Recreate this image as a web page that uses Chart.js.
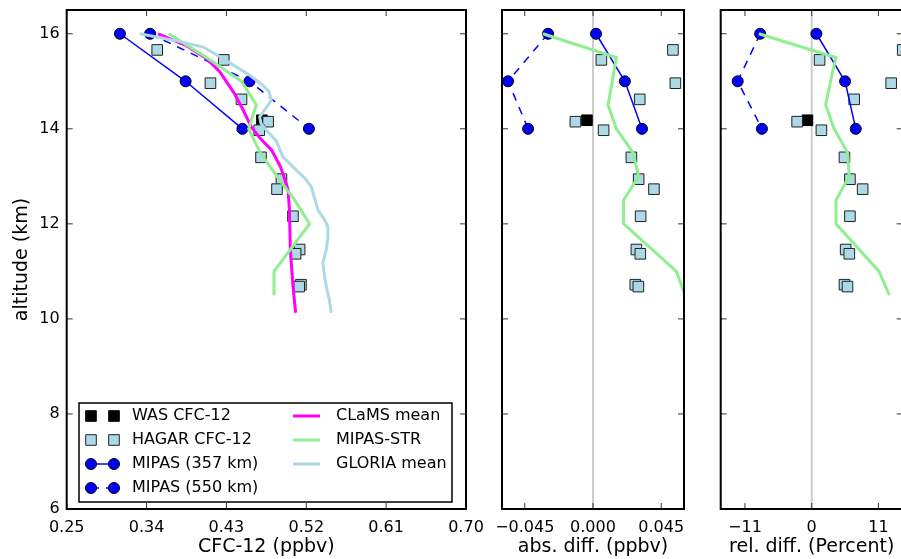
<!DOCTYPE html>
<html>
<head>
<meta charset="utf-8">
<script src="https://cdn.jsdelivr.net/npm/chart.js@4.4.0/dist/chart.umd.min.js"></script>
<style>
  body { margin: 0; background: #fff; overflow: hidden; width: 901px; height: 559px; position: relative; }
  canvas { position: absolute; top: 0; }
</style>
</head>
<body>
<canvas id="c1" width="500" height="559" style="left:0px"></canvas>
<canvas id="c2" width="210" height="559" style="left:490px"></canvas>
<canvas id="c3" width="220" height="559" style="left:700px"></canvas>
<script>
// --- Data ---

const yTicks = [6, 8, 10, 12, 14, 16];
const xTicks1 = [0.25, 0.34, 0.43, 0.52, 0.61, 0.70];
const xLabels1 = ["0.25", "0.34", "0.43", "0.52", "0.61", "0.70"];
const xTicks2 = [-0.045, 0, 0.045];
const xLabels2 = ["\u22120.045", "0.000", "0.045"];
const xTicks3 = [-11, 0, 11];
const xLabels3 = ["\u221211", "0", "11"];

// WAS
const altWas = [14.18];
const was = [0.470];
const wasAbs = [-0.004];
const wasRel = [-0.7];

// HAGAR
const altHagar = [15.66, 15.45, 14.96, 14.62, 14.15, 13.97, 13.40, 12.94, 12.73, 12.16, 11.46, 11.37, 10.72, 10.68];
const hagar = [0.352, 0.427, 0.412, 0.447, 0.477, 0.467, 0.469, 0.492, 0.487, 0.505, 0.5125, 0.508, 0.514, 0.512];
const hagarAbs = [0.0527, 0.0055, 0.0543, 0.0308, -0.0116, 0.0070, 0.0253, 0.0301, 0.0402, 0.0314, 0.0286, 0.0312, 0.0279, 0.0299];
const hagarRel = [15.0, 1.3, 13.1, 7.0, -2.4, 1.6, 5.4, 6.3, 8.4, 6.3, 5.6, 6.2, 5.4, 5.9];

// MIPAS
const altMipas = [16, 15, 14];
const mipas357 = [0.310, 0.384, 0.448];
const mipas550 = [0.344, 0.456, 0.523];
const mipas357Abs = [0.002, 0.021, 0.0323];
const mipas550Abs = [-0.0296, -0.056, -0.0428];
const mipas357Rel = [0.77, 5.5, 7.26];
const mipas550Rel = [-8.5, -12.2, -8.2];

// CLaMS mean
const altClams = [16.0, 15.75, 15.48, 15.2, 14.74, 14.39, 14.04, 13.8, 13.55, 13.2, 12.72, 12.3, 11.46, 10.69, 10.13];
const clams = [0.353, 0.385, 0.4075, 0.4225, 0.439, 0.449, 0.458, 0.468, 0.481, 0.491, 0.4995, 0.501, 0.502, 0.505, 0.508];

// MIPAS-STR
const altStr = [16.0, 15.5, 15.0, 14.5, 14.0, 13.5, 13.0, 12.5, 12.0, 11.0, 10.5];
const mipasStr = [0.365, 0.4075, 0.447, 0.4637, 0.455, 0.468, 0.487, 0.507, 0.5237, 0.4836, 0.4836];
const mipasStrAbs = [-0.033, 0.0154, 0.0127, 0.0099, 0.0154, 0.0264, 0.0301, 0.0202, 0.0202, 0.055, 0.0607];
const mipasStrRel = [-8.7, 4.0, 3.1, 2.3, 3.7, 5.9, 6.2, 4.0, 4.0, 11.1, 12.8];

// GLORIA mean
const altGloria = [16.0, 15.85, 15.72, 15.48, 15.13, 14.9, 14.78, 14.6, 14.25, 14.11, 13.97, 13.75, 13.41, 13.13, 12.95, 12.78, 12.5, 12.3, 12.1, 11.95, 11.7, 11.46, 11.18, 10.9, 10.69, 10.4, 10.13];
const gloria = [0.3325, 0.374, 0.404, 0.426, 0.456, 0.472, 0.478, 0.4806, 0.4675, 0.469, 0.475, 0.486, 0.4937, 0.5087, 0.519, 0.5256, 0.530, 0.533, 0.540, 0.5443, 0.5443, 0.5425, 0.5387, 0.5405, 0.5425, 0.546, 0.5481];

// --- Styles ---

const FONT = "DejaVu Sans";
const BLUE = "#0000ff";
const MAGENTA = "#ff00ff";
const GREEN = "#90ee90";
const LIGHTBLUE = "#add8e6";
const DASH = [8, 7];

function pts(xs, ys) {
  return xs.map((v, i) => ({ x: v, y: ys[i] }));
}

function wasSet(xs) {
  return { label: "WAS CFC-12", data: pts(xs, altWas), order: 7, pointStyle: "rect", pointRadius: 7.5,
    pointBackgroundColor: "#000", pointBorderColor: "#000", pointBorderWidth: 1 };
}
function hagarSet(xs) {
  return { label: "HAGAR CFC-12", data: pts(xs, altHagar), order: 6, pointStyle: "rect", pointRadius: 7.5,
    pointBackgroundColor: LIGHTBLUE, pointBorderColor: "#222", pointBorderWidth: 1 };
}
function mipasSet(label, xs, dashed, order) {
  return { label, data: pts(xs, altMipas), order, showLine: true, borderColor: BLUE, borderWidth: 1.5,
    borderDash: dashed ? DASH : [], pointStyle: "circle", pointRadius: 5.5,
    pointBackgroundColor: BLUE, pointBorderColor: "#000", pointBorderWidth: 1 };
}
function lineSet(label, xs, ys, color, order) {
  return { label, data: pts(xs, ys), order, showLine: true, borderColor: color, borderWidth: 3, pointRadius: 0 };
}

// --- Plugins: frame with inward ticks, zero line, legend ---

const framePlugin = {
  id: "frame",
  beforeDatasetsDraw(chart) {
    if (!chart.options.plugins.frame.zero) return;
    const { ctx, chartArea: a, scales: { x } } = chart;
    const px = x.getPixelForValue(0);
    ctx.save();
    ctx.strokeStyle = "#cccccc";
    ctx.lineWidth = 2;
    ctx.beginPath();
    ctx.moveTo(px, a.top);
    ctx.lineTo(px, a.bottom);
    ctx.stroke();
    ctx.restore();
  },
  afterDatasetsDraw(chart) {
    const { ctx, chartArea: a, scales: { x, y } } = chart;
    ctx.save();
    ctx.strokeStyle = "#333";
    ctx.lineWidth = 1;
    ctx.beginPath();
    x.ticks.forEach(t => {
      const px = x.getPixelForValue(t.value);
      ctx.moveTo(px, a.bottom); ctx.lineTo(px, a.bottom - 6);
      ctx.moveTo(px, a.top); ctx.lineTo(px, a.top + 6);
    });
    y.ticks.forEach(t => {
      const py = y.getPixelForValue(t.value);
      ctx.moveTo(a.left, py); ctx.lineTo(a.left + 6, py);
      ctx.moveTo(a.right, py); ctx.lineTo(a.right - 6, py);
    });
    ctx.stroke();
    ctx.strokeStyle = "#000";
    ctx.lineWidth = 2;
    ctx.strokeRect(a.left, a.top, a.right - a.left, a.bottom - a.top);
    ctx.restore();
  }
};

function drawMarker(ctx, ds, cx, cy) {
  ctx.fillStyle = ds.pointBackgroundColor;
  ctx.strokeStyle = ds.pointBorderColor;
  ctx.lineWidth = ds.pointBorderWidth;
  ctx.beginPath();
  if (ds.pointStyle === "rect") {
    const s = ds.pointRadius * Math.SQRT1_2;
    ctx.rect(cx - s, cy - s, 2 * s, 2 * s);
  } else {
    ctx.arc(cx, cy, ds.pointRadius, 0, Math.PI * 2);
  }
  ctx.fill();
  ctx.stroke();
}

const legendPlugin = {
  id: "boxLegend",
  afterDraw(chart) {
    const ctx = chart.ctx;
    const sets = chart.data.datasets;
    ctx.save();
    ctx.fillStyle = "#fff";
    ctx.fillRect(79, 403, 373, 99);
    ctx.strokeStyle = "#000";
    ctx.lineWidth = 1.5;
    ctx.strokeRect(79, 403, 373, 99);
    ctx.font = "16px '" + FONT + "'";
    ctx.textBaseline = "middle";
    const rows = [416, 440, 464, 488];
    // left column: marker entries
    sets.slice(0, 4).forEach((ds, i) => {
      const ry = rows[i];
      if (ds.showLine) {
        ctx.strokeStyle = ds.borderColor;
        ctx.lineWidth = ds.borderWidth;
        ctx.setLineDash(ds.borderDash || []);
        ctx.beginPath();
        ctx.moveTo(91, ry); ctx.lineTo(114, ry);
        ctx.stroke();
        ctx.setLineDash([]);
      }
      drawMarker(ctx, ds, 91, ry);
      drawMarker(ctx, ds, 114, ry);
      ctx.fillStyle = "#000";
      ctx.fillText(ds.label, 132, ry);
    });
    // right column: line entries
    sets.slice(4).forEach((ds, i) => {
      const ry = rows[i];
      ctx.strokeStyle = ds.borderColor;
      ctx.lineWidth = ds.borderWidth;
      ctx.beginPath();
      ctx.moveTo(293, ry); ctx.lineTo(320, ry);
      ctx.stroke();
      ctx.fillStyle = "#000";
      ctx.fillText(ds.label, 336, ry);
    });
    ctx.restore();
  }
};

// --- Panels ---

function panel(id, opt) {
  return new Chart(document.getElementById(id), {
    type: "scatter",
    data: { datasets: opt.datasets },
    options: {
      responsive: false,
      animation: false,
      events: [],
      layout: { padding: { top: 10, right: opt.padRight, left: 0, bottom: 0 } },
      plugins: { legend: { display: false }, tooltip: { enabled: false }, frame: { zero: opt.zero } },
      scales: {
        x: {
          type: "linear", min: opt.xMin, max: opt.xMax,
          afterBuildTicks: s => { s.ticks = opt.xTicks.map(v => ({ value: v })); },
          afterFit: s => { s.height = 50; s.paddingLeft = 0; s.paddingRight = 0; },
          grid: { display: false, drawTicks: false },
          border: { display: false },
          ticks: { callback: (v, i) => opt.xLabels[i], color: "#000", font: { family: FONT, size: 16 },
            padding: 9, maxRotation: 0, autoSkip: false },
          title: { display: true, text: opt.xTitle, color: "#000",
            font: { family: FONT, size: 19, lineHeight: 1 }, padding: { top: 0, bottom: 2.5 } }
        },
        y: {
          type: "linear", min: 6, max: 16.5,
          afterBuildTicks: s => { s.ticks = yTicks.map(v => ({ value: v })); },
          afterFit: s => { s.width = opt.yWidth; s.paddingTop = 0; s.paddingBottom = 0; },
          grid: { display: false, drawTicks: false },
          border: { display: false },
          ticks: { display: !!opt.yTitle, color: "#000", font: { family: FONT, size: 16 }, padding: 7 },
          title: { display: !!opt.yTitle, text: opt.yTitle || "", color: "#000",
            font: { family: FONT, size: 19, lineHeight: 1 }, padding: { top: 12.5, bottom: 0 } }
        }
      }
    },
    plugins: opt.legend ? [framePlugin, legendPlugin] : [framePlugin]
  });
}

panel("c1", {
  xMin: 0.25, xMax: 0.70, xTicks: xTicks1, xLabels: xLabels1, xTitle: "CFC-12 (ppbv)",
  yTitle: "altitude (km)", yWidth: 66.7, padRight: 34, legend: true, zero: false,
  datasets: [
    wasSet(was),
    hagarSet(hagar),
    mipasSet("MIPAS (357 km)", mipas357, false, 5),
    mipasSet("MIPAS (550 km)", mipas550, true, 4),
    lineSet("CLaMS mean", clams, altClams, MAGENTA, 3),
    lineSet("MIPAS-STR", mipasStr, altStr, GREEN, 2),
    lineSet("GLORIA mean", gloria, altGloria, LIGHTBLUE, 1)
  ]
});

panel("c2", {
  xMin: -0.06, xMax: 0.06, xTicks: xTicks2, xLabels: xLabels2, xTitle: "abs. diff. (ppbv)",
  yWidth: 12, padRight: 16, zero: true,
  datasets: [
    wasSet(wasAbs),
    hagarSet(hagarAbs),
    mipasSet("MIPAS (357 km)", mipas357Abs, false, 5),
    mipasSet("MIPAS (550 km)", mipas550Abs, true, 4),
    lineSet("MIPAS-STR", mipasStrAbs, altStr, GREEN, 2)
  ]
});

panel("c3", {
  xMin: -15, xMax: 15, xTicks: xTicks3, xLabels: xLabels3, xTitle: "rel. diff. (Percent)",
  yWidth: 20.7, padRight: 17.3, zero: true,
  datasets: [
    wasSet(wasRel),
    hagarSet(hagarRel),
    mipasSet("MIPAS (357 km)", mipas357Rel, false, 5),
    mipasSet("MIPAS (550 km)", mipas550Rel, true, 4),
    lineSet("MIPAS-STR", mipasStrRel, altStr, GREEN, 2)
  ]
});
</script>
</body>
</html>
